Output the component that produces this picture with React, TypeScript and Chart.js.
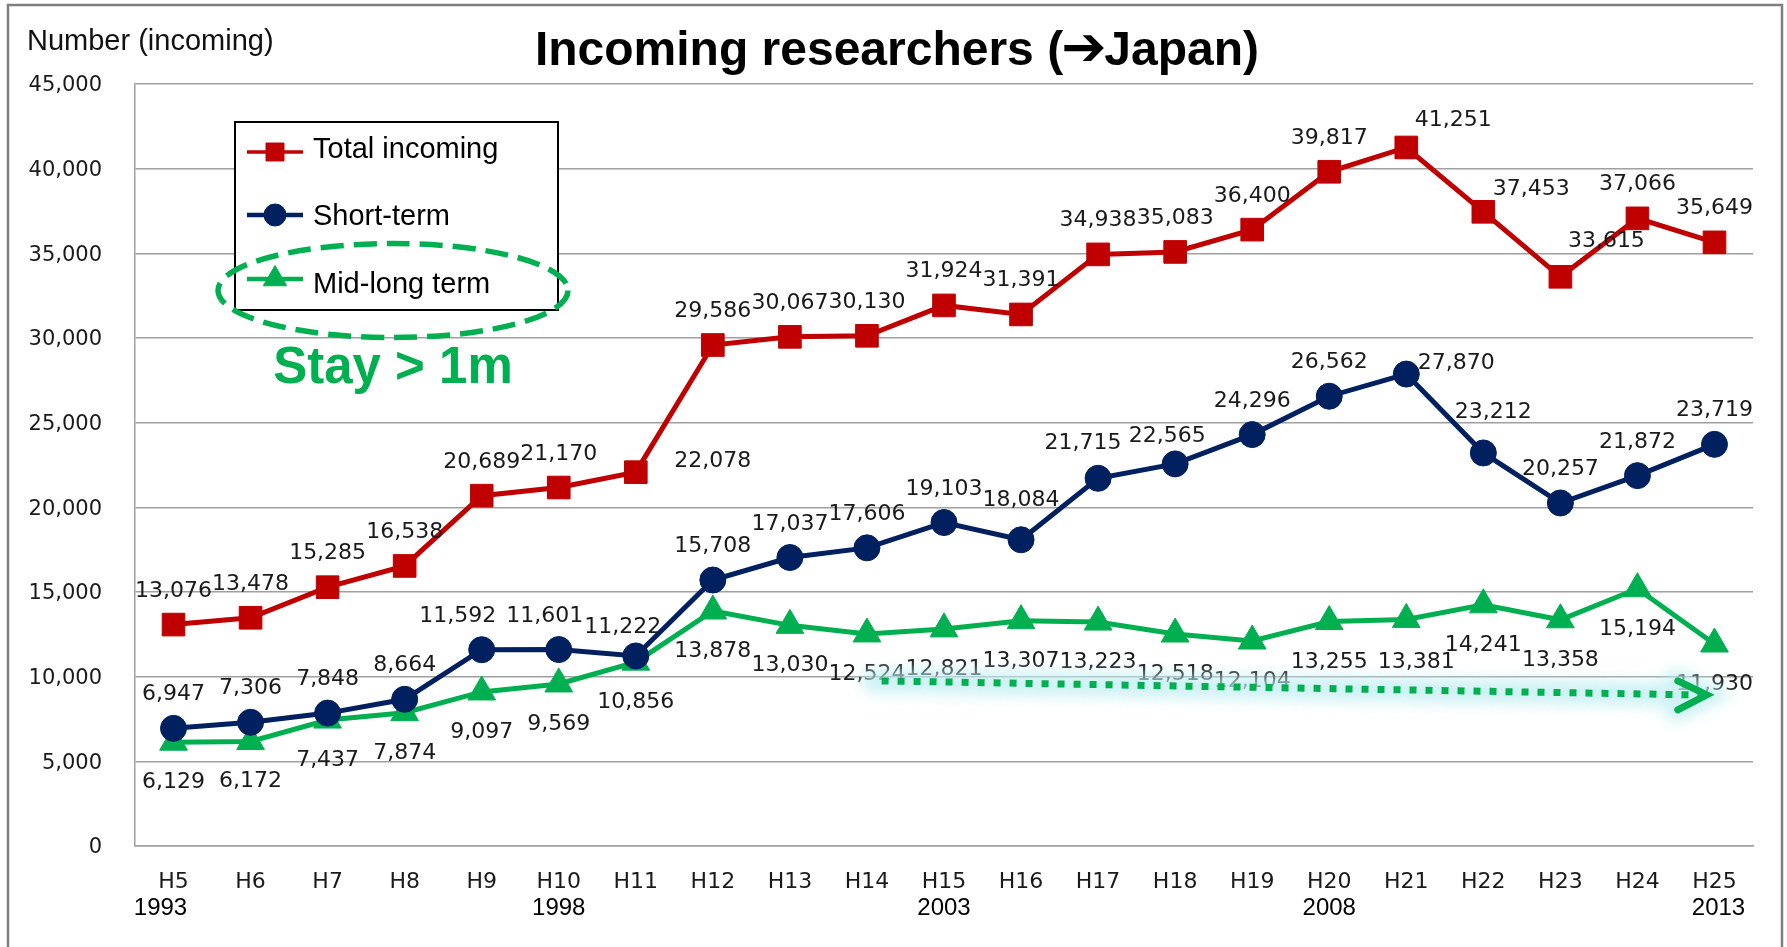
import React, { useEffect, useRef } from "react";
import { Chart, registerables } from "chart.js";
import { drawPoint } from "chart.js/helpers";

Chart.register(...registerables);

// ---------------- data ----------------
const categories = ["H5", "H6", "H7", "H8", "H9", "H10", "H11", "H12", "H13", "H14", "H15", "H16", "H17", "H18", "H19", "H20", "H21", "H22", "H23", "H24", "H25"];
const yearLabels = ["1993", "", "", "", "", "1998", "", "", "", "", "2003", "", "", "", "", "2008", "", "", "", "", "2013"];

const totalIncoming = [13076, 13478, 15285, 16538, 20689, 21170, 22078, 29586, 30067, 30130, 31924, 31391, 34938, 35083, 36400, 39817, 41251, 37453, 33615, 37066, 35649];
const shortTerm = [6947, 7306, 7848, 8664, 11592, 11601, 11222, 15708, 17037, 17606, 19103, 18084, 21715, 22565, 24296, 26562, 27870, 23212, 20257, 21872, 23719];
const midLongTerm = [6129, 6172, 7437, 7874, 9097, 9569, 10856, 13878, 13030, 12524, 12821, 13307, 13223, 12518, 12104, 13255, 13381, 14241, 13358, 15194, 11930];

const seriesNames = ["Total incoming", "Short-term", "Mid-long term"];
const Y_MIN = 0;
const Y_MAX = 45000;
const Y_STEP = 5000;

const titleBefore = "Incoming researchers (";
const titleArrow = "\u2794";
const titleAfter = "Japan)";
const yAxisTitle = "Number (incoming)";
const calloutText = "Stay > 1m";

// trend arrow in data coordinates (category index, value)
const trendArrowFrom = { index: 9.19, value: 9750 };
const trendArrowTo = { index: 19.9, value: 8920 };

// ---------------- styles ----------------
const RED = "#C00000";
const NAVY = "#002060";
const GREEN = "#00B050";
const TEXT = "#1a1a1a";
const GRID = "#a0a0a0";

// label nudges (pixels) by category index; default is above / below the point
const totalNudge: Record<number, [number, number]> = { 6: [77, -13], 16: [47, -29], 17: [48, -25], 18: [46, -38] };
const shortNudge: Record<number, [number, number]> = { 4: [-24, -36], 5: [-14, -36], 6: [-13, -31], 11: [0, -42], 12: [-15, -37], 13: [-8, -30], 16: [50, -13], 17: [10, -43] };
const midNudge: Record<number, [number, number]> = { 16: [10, 41] };
const yearNudge: Record<number, number> = { 0: -13, 20: 4 };

const fmt = (v: number) => v.toLocaleString("en-US");

const decorPlugin = {
  id: "decor",
  beforeDraw(chart: any) {
    const ctx = chart.ctx as CanvasRenderingContext2D;
    ctx.save();
    ctx.fillStyle = "#ffffff";
    ctx.fillRect(0, 0, chart.width, chart.height);
    ctx.strokeStyle = "#7f7f7f";
    ctx.lineWidth = 2.5;
    ctx.strokeRect(8, 5, 1774, 1000);
    ctx.restore();
  },
  afterDatasetsDraw(chart: any) {
    const ctx = chart.ctx as CanvasRenderingContext2D;
    ctx.save();
    ctx.font = '22px "DejaVu Sans"';
    ctx.fillStyle = TEXT;
    ctx.textAlign = "center";
    ctx.textBaseline = "alphabetic";
    const specs = [
      { values: totalIncoming, dy: -36, nudge: totalNudge },
      { values: shortTerm, dy: -36, nudge: shortNudge },
      { values: midLongTerm, dy: 38, nudge: midNudge },
    ];
    specs.forEach((s, i) => {
      const meta = chart.getDatasetMeta(i);
      meta.data.forEach((pt: any, j: number) => {
        const n = s.nudge[j];
        const dx = n ? n[0] : 0;
        const dy = n ? n[1] : s.dy;
        ctx.fillText(fmt(s.values[j]), pt.x + dx, pt.y + dy + 8);
      });
    });
    ctx.restore();
  },
  afterDraw(chart: any) {
    const ctx = chart.ctx as CanvasRenderingContext2D;
    const xs = chart.scales.x;
    const ys = chart.scales.y;
    ctx.save();

    // title (arrow glyph set in a font that has a heavy arrow)
    ctx.fillStyle = "#000";
    ctx.textBaseline = "alphabetic";
    ctx.textAlign = "left";
    const fTitle = 'bold 48px "Liberation Sans"';
    const fArrow = 'bold 54px "DejaVu Sans"';
    ctx.font = fTitle;
    const w1 = ctx.measureText(titleBefore).width;
    const w3 = ctx.measureText(titleAfter).width;
    ctx.font = fArrow;
    const w2 = ctx.measureText(titleArrow).width - 4;
    let tx = 897 - (w1 + w2 + w3) / 2;
    ctx.font = fTitle;
    ctx.fillText(titleBefore, tx, 65);
    tx += w1;
    ctx.font = fArrow;
    ctx.fillText(titleArrow, tx - 2, 65);
    tx += w2;
    ctx.font = fTitle;
    ctx.fillText(titleAfter, tx, 65);

    // y-axis title
    ctx.font = '29px "Liberation Sans"';
    ctx.textAlign = "left";
    ctx.fillStyle = "#111";
    ctx.fillText(yAxisTitle, 27, 50);

    // year labels
    ctx.font = '24px "Liberation Sans"';
    ctx.textAlign = "center";
    ctx.fillStyle = "#000";
    yearLabels.forEach((y, i) => {
      if (!y) return;
      ctx.fillText(y, xs.getPixelForValue(i) + (yearNudge[i] || 0), 915);
    });

    // legend box
    const lx = 235, ly = 122, lw = 323, lh = 188;
    ctx.fillStyle = "#fff";
    ctx.fillRect(lx, ly, lw, lh);
    ctx.strokeStyle = "#000";
    ctx.lineWidth = 2;
    ctx.strokeRect(lx, ly, lw, lh);
    const legendRows = [
      { name: seriesNames[0], color: RED, style: "rect", r: 12.7, lineY: 152, textY: 158, lw: 3.5 },
      { name: seriesNames[1], color: NAVY, style: "circle", r: 11, lineY: 215, textY: 225, lw: 4.5 },
      { name: seriesNames[2], color: GREEN, style: "triangle", r: 13.5, lineY: 279, textY: 293, lw: 4.5 },
    ];
    legendRows.forEach((row) => {
      ctx.strokeStyle = row.color;
      ctx.fillStyle = row.color;
      ctx.lineWidth = row.lw;
      ctx.beginPath();
      ctx.moveTo(247, row.lineY);
      ctx.lineTo(303, row.lineY);
      ctx.stroke();
      ctx.lineWidth = 1;
      drawPoint(ctx, { pointStyle: row.style as any, radius: row.r, rotation: 0, borderWidth: 1 } as any, 275, row.lineY);
      ctx.fillStyle = "#000";
      ctx.font = '29px "Liberation Sans"';
      ctx.textAlign = "left";
      ctx.fillText(row.name, 313, row.textY);
    });

    // dashed ellipse
    ctx.strokeStyle = GREEN;
    ctx.lineWidth = 5.5;
    ctx.setLineDash([23, 10]);
    ctx.beginPath();
    ctx.ellipse(393, 290.5, 175, 47, 0, 0, Math.PI * 2);
    ctx.stroke();
    ctx.setLineDash([]);

    // callout text
    ctx.fillStyle = GREEN;
    ctx.font = 'bold 51px "Liberation Sans"';
    ctx.textAlign = "center";
    ctx.fillText(calloutText, 393, 383);

    // trend arrow
    const x0 = xs.getPixelForValue(trendArrowFrom.index);
    const y0 = ys.getPixelForValue(trendArrowFrom.value);
    const x1 = xs.getPixelForValue(trendArrowTo.index);
    const y1 = ys.getPixelForValue(trendArrowTo.value);
    ctx.save();
    ctx.filter = "blur(7px)";
    ctx.strokeStyle = "rgba(190, 238, 242, 0.75)";
    ctx.lineWidth = 24;
    ctx.lineCap = "round";
    ctx.beginPath();
    ctx.moveTo(x0 - 8, y0);
    ctx.lineTo(x1 - 4, y1);
    ctx.moveTo(x1 - 30, y1 - 14);
    ctx.lineTo(x1, y1);
    ctx.lineTo(x1 - 30, y1 + 15);
    ctx.stroke();
    ctx.restore();

    ctx.strokeStyle = GREEN;
    ctx.lineWidth = 7;
    ctx.lineCap = "butt";
    ctx.setLineDash([7, 9]);
    ctx.beginPath();
    ctx.moveTo(x0, y0);
    ctx.lineTo(x1 - 8, y1);
    ctx.stroke();
    ctx.setLineDash([]);
    ctx.lineCap = "round";
    ctx.lineJoin = "miter";
    ctx.beginPath();
    ctx.moveTo(x1 - 29, y1 - 14);
    ctx.lineTo(x1, y1);
    ctx.lineTo(x1 - 29, y1 + 15);
    ctx.stroke();

    ctx.restore();
  },
};

export default function App() {
  const canvasRef = useRef<HTMLCanvasElement | null>(null);

  useEffect(() => {
    const canvas = canvasRef.current;
    if (!canvas) return;
    const chart = new Chart(canvas, {
      type: "line",
      data: {
        labels: categories,
        datasets: [
          {
            label: seriesNames[0],
            data: totalIncoming,
            borderColor: RED,
            backgroundColor: RED,
            borderWidth: 5,
            pointStyle: "rect",
            pointRadius: 16,
            pointBorderWidth: 1,
            pointBackgroundColor: RED,
            pointBorderColor: RED,
            tension: 0,
          },
          {
            label: seriesNames[1],
            data: shortTerm,
            borderColor: NAVY,
            backgroundColor: NAVY,
            borderWidth: 5,
            pointStyle: "circle",
            pointRadius: 13,
            pointBorderWidth: 1,
            pointBackgroundColor: NAVY,
            pointBorderColor: NAVY,
            tension: 0,
          },
          {
            label: seriesNames[2],
            data: midLongTerm,
            borderColor: GREEN,
            backgroundColor: GREEN,
            borderWidth: 5,
            pointStyle: "triangle",
            pointRadius: 16,
            pointBorderWidth: 1,
            pointBackgroundColor: GREEN,
            pointBorderColor: GREEN,
            tension: 0,
          },
        ],
      },
      options: {
        responsive: false,
        animation: false,
        devicePixelRatio: 1,
        layout: { padding: { left: 8, right: 34, top: 84, bottom: 0 } },
        plugins: {
          legend: { display: false },
          title: { display: false },
          tooltip: { enabled: false },
        },
        scales: {
          x: {
            type: "category",
            offset: true,
            grid: { display: false, drawTicks: false },
            border: { display: true, color: GRID, width: 1.5 },
            ticks: {
              autoSkip: false,
              maxRotation: 0,
              padding: 23,
              color: TEXT,
              font: { family: "DejaVu Sans", size: 22 },
            },
            afterFit: (scale: any) => {
              scale.height = 101;
            },
          },
          y: {
            min: Y_MIN,
            max: Y_MAX,
            ticks: {
              stepSize: Y_STEP,
              padding: 33,
              labelOffset: 2,
              color: TEXT,
              font: { family: "DejaVu Sans", size: 21 },
              callback: (v: any) => fmt(Number(v)),
            },
            grid: { color: GRID, lineWidth: 1.5, drawTicks: false },
            border: { display: true, color: GRID, width: 1.5 },
            afterFit: (scale: any) => {
              scale.width = 127;
            },
          },
        },
      },
      plugins: [decorPlugin],
    });
    return () => chart.destroy();
  }, []);

  return (
    <div style={{ position: "fixed", left: 0, top: 0, width: 1787, height: 947, background: "#fff" }}>
      <canvas ref={canvasRef} width={1787} height={947} style={{ display: "block", width: 1787, height: 947 }} />
    </div>
  );
}
